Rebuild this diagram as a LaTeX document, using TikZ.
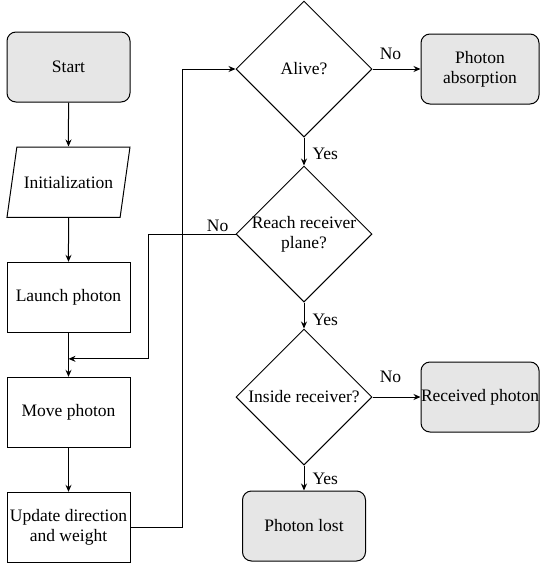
\documentclass[tikz,border=0pt]{standalone}
\usepackage{fontspec}
\setmainfont{Liberation Serif}
\usetikzlibrary{arrows.meta,positioning,shapes.geometric}
\definecolor{boxgray}{HTML}{E6E6E6}
\tikzset{
  base/.style={draw=black, line width=1pt, align=center, inner sep=0pt,
               font=\fontsize{17.5}{20}\selectfont},
  procbox/.style={base, rectangle, minimum width=123pt, minimum height=70pt},
  termbox/.style={procbox, rounded corners=9pt, fill=boxgray},
  endbox/.style={termbox, minimum width=118pt},
  iobox/.style={base, trapezium, trapezium left angle=82, trapezium right angle=98,
                trapezium stretches body, inner ysep=29pt, minimum width=123pt},
  decbox/.style={base, diamond, inner sep=-2pt, minimum width=136pt, minimum height=136pt},
  lbl/.style={font=\fontsize{17.5}{20}\selectfont, inner sep=0pt},
  flow/.style={-{Stealth[length=7pt, width=6pt]}, draw=black, line width=1pt}
}
\begin{document}
\begin{tikzpicture}[x=1pt, y=-1pt]
 \useasboundingbox (0,0) rectangle (539,563);
 % left column
 \node[termbox] (start) at (68.5,67) {Start};
 \node[iobox, below=44pt of start] (init) {Initialization};
 \node[procbox, below=44pt of init] (launch) {Launch photon};
 \node[procbox, below=44pt of launch] (move) {Move photon};
 \node[procbox, below=44pt of move] (update) {Update direction\\and weight};
 \coordinate[below=26pt of launch] (merge);
 % right column
 \node[decbox] (alive) at (304,69) {Alive?};
 \node[decbox, below=28pt of alive] (reach) {Reach receiver\\plane?};
 \node[decbox, below=26pt of reach] (inside) {Inside receiver?};
 \node[termbox, below=25pt of inside] (lost) {Photon lost};
 \node[endbox, right=48pt of alive] (absorb) {Photon\\absorption};
 \node[endbox, right=48pt of inside] (received) {Received photon};
 % connectors
 \draw[flow] (start) -- (init);
 \draw[flow] (init) -- (launch);
 \draw[flow] (launch) -- (move);
 \draw[flow] (move) -- (update);
 \draw[flow] (update.east) -| ([xshift=-53pt]alive.west) -- (alive.west);
 \draw[flow] (reach.west) -| ([xshift=80pt]merge) -- (merge);
 \node[lbl, above left=2pt and 7pt of reach.west] (noreach) {No};
 \draw[flow] (alive) -- node[lbl, pos=0.375, above=9pt] (noalive) {No} (absorb);
 \draw[flow] (inside) -- node[lbl, pos=0.375, above=14pt] (noinside) {No} (received);
 \draw[flow] (alive) -- node[lbl, pos=0.59, right=8pt] (yesalive) {Yes} (reach);
 \draw[flow] (reach) -- node[lbl, pos=0.68, right=8pt] (yesreach) {Yes} (inside);
 \draw[flow] (inside) -- node[lbl, pos=0.54, right=8pt] (yesinside) {Yes} (lost);
\end{tikzpicture}
\end{document}
